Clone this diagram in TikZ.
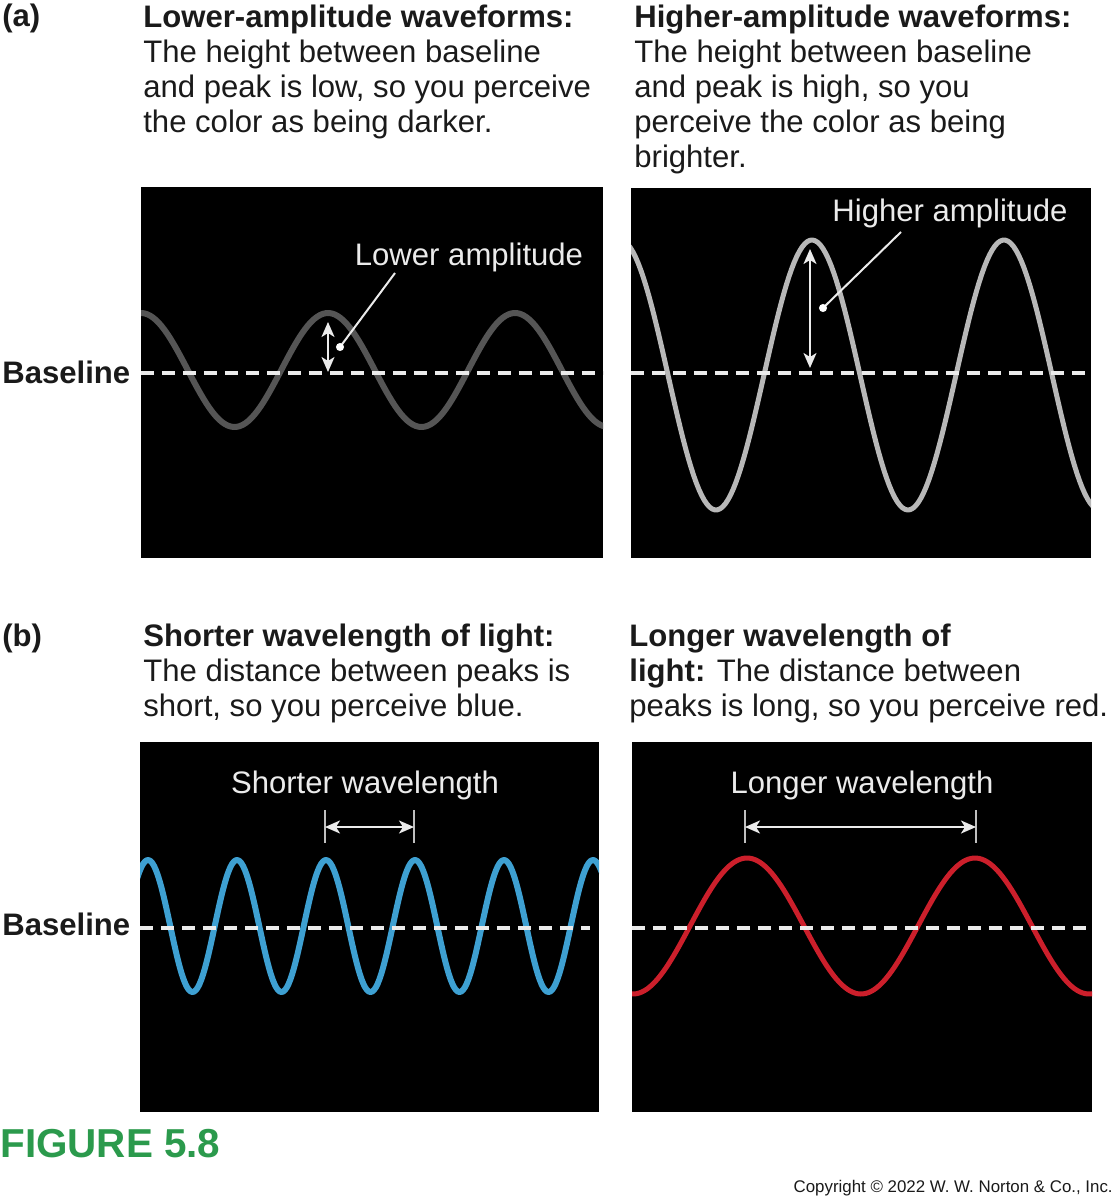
\documentclass[tikz,border=0pt]{standalone}
\usepackage{fontspec}
\setmainfont{Liberation Sans}
\usetikzlibrary{arrows.meta}
\definecolor{darkwave}{HTML}{555555}
\definecolor{lightwave}{HTML}{B8B8B8}
\definecolor{bluewave}{HTML}{3EA0D2}
\definecolor{redwave}{HTML}{CC1F2B}
\definecolor{figgreen}{HTML}{2B9A4C}
\definecolor{inktext}{HTML}{1A1A1A}
\tikzset{
  heading/.style={anchor=base west,align=left,inner sep=0pt,text=inktext,font=\fontsize{17.7}{19.9}\selectfont},
  tag/.style={anchor=base west,inner sep=0pt,text=inktext,font=\fontsize{17.7}{19.9}\selectfont\bfseries},
  panel/.style={fill=black},
  wavelabel/.style={inner sep=0pt,text=white!92!black,font=\fontsize{17.7}{19.9}\selectfont},
  wave/.style={line width=#1,line join=round},
  baseguide/.style={white!92!black,line width=0.08cm,dash pattern=on 0.26cm off 0.16cm},
  measure/.style={{Stealth[length=0.3cm,width=0.26cm,inset=0.08cm]}-{Stealth[length=0.3cm,width=0.26cm,inset=0.08cm]},white!92!black,line width=0.04cm},
  pointer/.style={white!92!black,line width=0.04cm},
  peaktick/.style={white!75!black,line width=0.04cm}
}

\begin{document}
\begin{tikzpicture}[x=0.02cm,y=-0.02cm]
\useasboundingbox[fill=white] (0,0) rectangle (1118,1200);

% (a) amplitude -- headings are placed by the baseline of their last line
\node[tag] (taga) at (2,27) {(a)};
\node[heading] (lowtext) at (143,132) {\textbf{Lower-amplitude waveforms:}\\The height between baseline\\and peak is low, so you perceive\\the color as being darker.};
\node[heading] (hightext) at (634,167) {\textbf{Higher-amplitude waveforms:}\\The height between baseline\\and peak is high, so you\\perceive the color as being\\brighter.};
\node[tag] (basea) at (2,383) {Baseline};

\fill[panel] (141,187) rectangle (603,558);
\fill[panel] (631,188) rectangle (1091,558);

\begin{scope}
\clip (141,187) rectangle (603,558);
\draw[wave=0.12cm,darkwave] plot[domain=135:610,samples=160] (\x,{370-57*cos((\x-141)/187*360)});
\end{scope}
\begin{scope}
\clip (631,188) rectangle (1091,558);
\draw[wave=0.1cm,lightwave] plot[domain=625:1098,samples=180] (\x,{375-135*cos((\x-812)/192*360)});
\end{scope}
\draw[baseguide] (141,373) -- (603,373);
\draw[baseguide] (631,373) -- (1091,373);

\coordinate (lowtop) at (328,322);
\coordinate (lowbot) at (328,372);
\coordinate (lowdot) at (340,347);
\coordinate (lowend) at (395,273);
\node[wavelabel] (lowlbl) at (469,257) {Lower amplitude};
\draw[measure] (lowtop) -- (lowbot);
\draw[pointer] (lowdot) -- (lowend);
\fill[white] (lowdot) circle[radius=2.3pt];

\coordinate (hightop) at (810,249);
\coordinate (highbot) at (810,368);
\coordinate (highdot) at (823,308);
\coordinate (highend) at (901,232);
\node[wavelabel] (highlbl) at (950,213) {Higher amplitude};
\draw[measure] (hightop) -- (highbot);
\draw[pointer] (highdot) -- (highend);
\fill[white] (highdot) circle[radius=2.3pt];

% (b) wavelength
\node[tag] (tagb) at (2,646) {(b)};
\node[heading] (shorttext) at (143,716) {\textbf{Shorter wavelength of light:}\\The distance between peaks is\\short, so you perceive blue.};
\node[heading] (longtext) at (629,716) {\textbf{Longer wavelength of}\\\textbf{light:} The distance between\\peaks is long, so you perceive red.};
\node[tag] (baseb) at (2,935) {Baseline};

\fill[panel] (140,742) rectangle (599,1112);
\fill[panel] (632,742) rectangle (1092,1112);

\begin{scope}
\clip (140,742) rectangle (599,1112);
\draw[wave=0.12cm,bluewave] plot[domain=134:605,samples=260] (\x,{926-66*cos((\x-148)/89*360)});
\end{scope}
\begin{scope}
\clip (632,742) rectangle (1092,1112);
\draw[wave=0.1cm,redwave] plot[domain=626:1098,samples=180] (\x,{926-68*cos((\x-747)/228*360)});
\end{scope}
\draw[baseguide] (140,928) -- (590,928);
\draw[baseguide] (632,928) -- (1092,928);

\coordinate (shortl) at (325,827);
\coordinate (shortr) at (414,827);
\node[wavelabel] (shortlbl) at (365,785) {Shorter wavelength};
\draw[peaktick] (325,810) -- (325,843);
\draw[peaktick] (414,810) -- (414,843);
\draw[measure] (shortl) -- (shortr);

\coordinate (longl) at (745,827);
\coordinate (longr) at (976,827);
\node[wavelabel] (longlbl) at (862,785) {Longer wavelength};
\draw[peaktick] (745,810) -- (745,843);
\draw[peaktick] (976,810) -- (976,843);
\draw[measure] (longl) -- (longr);

% caption
\node[anchor=base west,inner sep=0pt,text=figgreen,font=\fontsize{23}{24}\selectfont\bfseries] (figlabel) at (0,1157) {FIGURE 5.8};
\node[anchor=base east,inner sep=0pt,text=inktext,font=\fontsize{9.6}{11}\selectfont] (copyline) at (1113,1192) {Copyright © 2022 W. W. Norton \& Co., Inc.};
\end{tikzpicture}
\end{document}
